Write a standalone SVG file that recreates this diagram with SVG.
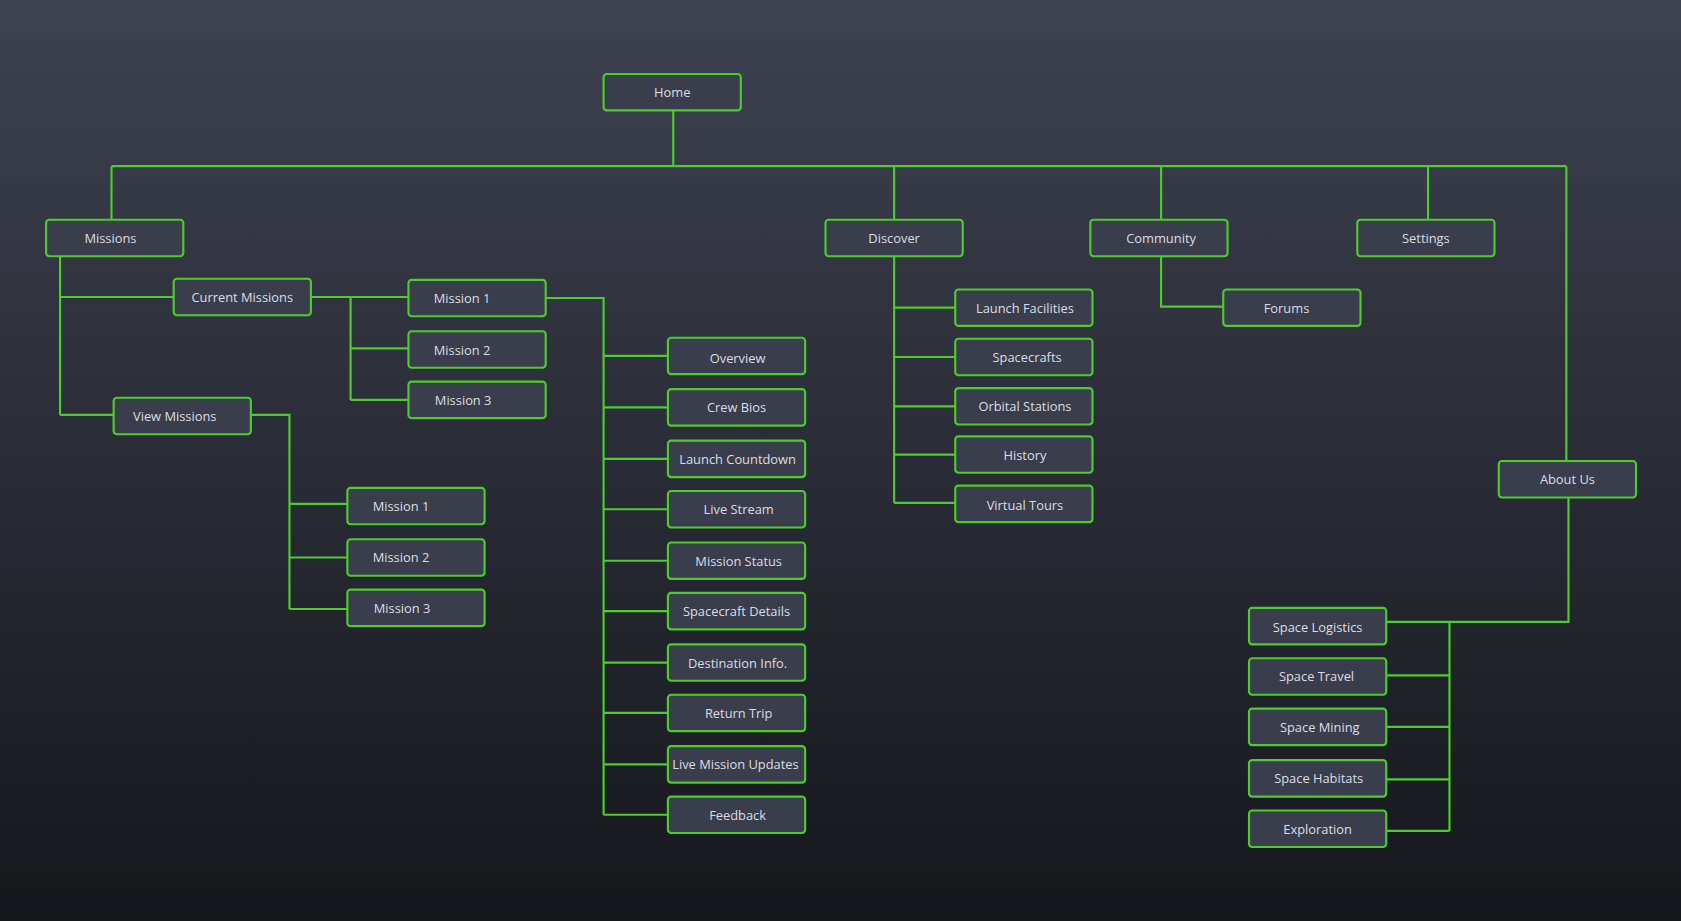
<svg xmlns="http://www.w3.org/2000/svg" width="1681" height="921" viewBox="0 0 1681 921">
<defs>
<linearGradient id="bg" x1="0" y1="0" x2="0" y2="1"><stop offset="0" stop-color="#3e4251"/><stop offset="1" stop-color="#15171b"/></linearGradient>
<style>
.n rect{fill:#3a3d4b;stroke:#4ccc2e;stroke-width:2}
.n text{fill:#dcdde4;font-family:"Open Sans","Liberation Sans",sans-serif;font-size:12px;text-anchor:middle;dominant-baseline:central}
#c path{fill:none;stroke:#4ccc2e;stroke-width:2}
</style>
</defs>
<rect width="1681" height="921" fill="url(#bg)"/>
<g transform="scale(1.0721)">
<g id="c">
<path d="M628 103V155M104 155H1461M104 155V205M834 155V205M1083 155V205M1332 155V205M1461 155V430"/>
<path d="M56 239V387M56 277H162M56 387H106"/>
<path d="M290 277H381M327 277V373M327 325H381M327 373H381"/>
<path d="M509 278H563V760M563 332H623M563 380H623M563 428H623M563 475H623M563 523H623M563 570H623M563 618H623M563 665H623M563 713H623M563 760H623"/>
<path d="M234 387H270V568M270 470H324M270 520H324M270 568H324"/>
<path d="M834 239V469M834 287H891M834 333H891M834 379H891M834 424H891M834 469H891"/>
<path d="M1083 239V286H1141"/>
<path d="M1463 464V580H1293M1352 580V775M1293 630H1352M1293 678H1352M1293 727H1352M1293 775H1352"/>
</g>
<g id="home" class="n"><rect x="563" y="69" width="128" height="34" rx="3"/><text x="627" y="86">Home</text></g>
<g id="missions" class="n"><rect x="43" y="205" width="128" height="34" rx="3"/><text x="103" y="222">Missions</text></g>
<g id="discover" class="n"><rect x="770" y="205" width="128" height="34" rx="3"/><text x="834" y="222">Discover</text></g>
<g id="community" class="n"><rect x="1017" y="205" width="128" height="34" rx="3"/><text x="1083" y="222">Community</text></g>
<g id="settings" class="n"><rect x="1266" y="205" width="128" height="34" rx="3"/><text x="1330" y="222">Settings</text></g>
<g id="aboutus" class="n"><rect x="1398" y="430" width="128" height="34" rx="3"/><text x="1462" y="447">About Us</text></g>
<g id="currentmissions" class="n"><rect x="162" y="260" width="128" height="34" rx="3"/><text x="226" y="277">Current Missions</text></g>
<g id="viewmissions" class="n"><rect x="106" y="371" width="128" height="34" rx="3"/><text x="163" y="388">View Missions</text></g>
<g id="cm1" class="n"><rect x="381" y="261" width="128" height="34" rx="3"/><text x="431" y="278">Mission 1</text></g>
<g id="cm2" class="n"><rect x="381" y="309" width="128" height="34" rx="3"/><text x="431" y="326">Mission 2</text></g>
<g id="cm3" class="n"><rect x="381" y="356" width="128" height="34" rx="3"/><text x="432" y="373">Mission 3</text></g>
<g id="vm1" class="n"><rect x="324" y="455" width="128" height="34" rx="3"/><text x="374" y="472">Mission 1</text></g>
<g id="vm2" class="n"><rect x="324" y="503" width="128" height="34" rx="3"/><text x="374" y="520">Mission 2</text></g>
<g id="vm3" class="n"><rect x="324" y="550" width="128" height="34" rx="3"/><text x="375" y="567">Mission 3</text></g>
<g id="overview" class="n"><rect x="623" y="315" width="128" height="34" rx="3"/><text x="688" y="334">Overview</text></g>
<g id="crewbios" class="n"><rect x="623" y="363" width="128" height="34" rx="3"/><text x="687" y="380">Crew Bios</text></g>
<g id="launchcountdown" class="n"><rect x="623" y="411" width="128" height="34" rx="3"/><text x="688" y="428">Launch Countdown</text></g>
<g id="livestream" class="n"><rect x="623" y="458" width="128" height="34" rx="3"/><text x="689" y="475">Live Stream</text></g>
<g id="missionstatus" class="n"><rect x="623" y="506" width="128" height="34" rx="3"/><text x="689" y="523">Mission Status</text></g>
<g id="spacecraftdetails" class="n"><rect x="623" y="553" width="128" height="34" rx="3"/><text x="687" y="570">Spacecraft Details</text></g>
<g id="destinationinfo" class="n"><rect x="623" y="601" width="128" height="34" rx="3"/><text x="688" y="618">Destination Info.</text></g>
<g id="returntrip" class="n"><rect x="623" y="648" width="128" height="34" rx="3"/><text x="689" y="665">Return Trip</text></g>
<g id="liveupdates" class="n"><rect x="623" y="696" width="128" height="34" rx="3"/><text x="686" y="713">Live Mission Updates</text></g>
<g id="feedback" class="n"><rect x="623" y="743" width="128" height="34" rx="3"/><text x="688" y="760">Feedback</text></g>
<g id="launchfacilities" class="n"><rect x="891" y="270" width="128" height="34" rx="3"/><text x="956" y="287">Launch Facilities</text></g>
<g id="spacecrafts" class="n"><rect x="891" y="316" width="128" height="34" rx="3"/><text x="958" y="333">Spacecrafts</text></g>
<g id="orbitalstations" class="n"><rect x="891" y="362" width="128" height="34" rx="3"/><text x="956" y="379">Orbital Stations</text></g>
<g id="history" class="n"><rect x="891" y="407" width="128" height="34" rx="3"/><text x="956" y="424">History</text></g>
<g id="virtualtours" class="n"><rect x="891" y="453" width="128" height="34" rx="3"/><text x="956" y="471">Virtual Tours</text></g>
<g id="forums" class="n"><rect x="1141" y="270" width="128" height="34" rx="3"/><text x="1200" y="287">Forums</text></g>
<g id="spacelogistics" class="n"><rect x="1165" y="567" width="128" height="34" rx="3"/><text x="1229" y="585">Space Logistics</text></g>
<g id="spacetravel" class="n"><rect x="1165" y="614" width="128" height="34" rx="3"/><text x="1228" y="631">Space Travel</text></g>
<g id="spacemining" class="n"><rect x="1165" y="661" width="128" height="34" rx="3"/><text x="1231" y="678">Space Mining</text></g>
<g id="spacehabitats" class="n"><rect x="1165" y="709" width="128" height="34" rx="3"/><text x="1230" y="726">Space Habitats</text></g>
<g id="exploration" class="n"><rect x="1165" y="756" width="128" height="34" rx="3"/><text x="1229" y="773">Exploration</text></g>
</g>
</svg>
